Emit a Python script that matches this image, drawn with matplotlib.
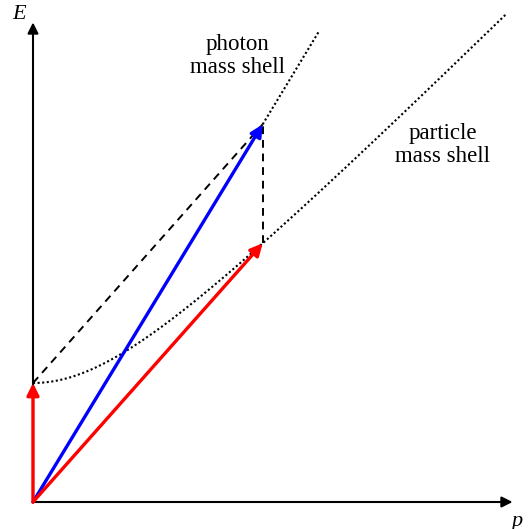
import numpy as np
from matplotlib import pyplot as plt

plt.rcParams['font.family'] = ['Liberation Serif', 'DejaVu Serif']

# units where the particle mass is 1
mass = 1.0
p_part = 1.93
E_part = np.sqrt(mass**2 + p_part**2)

# particle mass shell E = sqrt(m^2 + p^2)
shell_p = np.linspace(0, 3.97, 200)
shell_E = np.sqrt(mass**2 + shell_p**2)

# photon mass shell (from the tip of the total momentum)
photon_p = [p_part, 2.40]
photon_E = [mass + E_part, 3.95]

axis_len = 4.03

fig = plt.figure(figsize=(5.30, 5.29), dpi=100)
ax = fig.add_axes([0, 0, 1, 1])
ax.set_xlim(-33/119, 497/119)
ax.set_ylim(-27/119, 502/119)
ax.axis('off')


def arrow(tail, tip, color, lw, ms):
    ax.annotate('', xy=tip, xytext=tail,
                arrowprops=dict(arrowstyle='-|>', color=color, lw=lw,
                                mutation_scale=ms, shrinkA=0, shrinkB=0))


# axes
arrow((0, 0), (axis_len, 0), 'black', 1.5, 16)
arrow((0, 0), (0, axis_len), 'black', 1.5, 16)
ax.text(-0.12, axis_len + 0.07, 'E', style='italic', fontsize=16, ha='center', va='center')
ax.text(axis_len + 0.04, -0.16, 'p', style='italic', fontsize=16, ha='center', va='center')

# mass shells
dots = (0, (1, 1.2))
ax.plot(shell_p, shell_E, color='black', ls=dots, lw=1.5)
ax.plot(photon_p, photon_E, color='black', ls=dots, lw=1.5)

# dashed construction lines
ax.plot([0, p_part], [mass, mass + E_part], color='black', lw=1.4, dashes=(4, 3))
ax.plot([p_part, p_part], [E_part, mass + E_part], color='black', lw=1.4, dashes=(4, 3))

# momentum vectors
arrow((0, 0), (p_part, mass + E_part), 'blue', 2.4, 18)
arrow((0, 0), (p_part, E_part), 'red', 2.4, 18)
arrow((0, 0), (0, mass), 'red', 2.4, 18)

ax.text(1.72, 3.75, 'photon\nmass shell', fontsize=16.5, ha='center', va='center', linespacing=1.15)
ax.text(3.44, 3.0, 'particle\nmass shell', fontsize=16.5, ha='center', va='center', linespacing=1.15)

plt.savefig('out.png', dpi=100)
